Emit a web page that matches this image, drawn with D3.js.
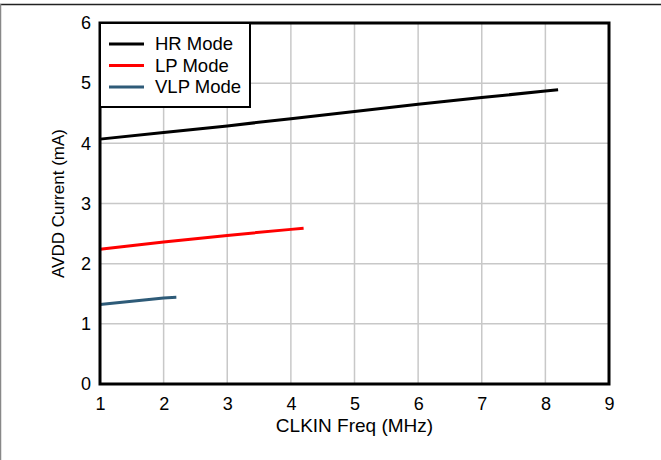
<!DOCTYPE html>
<html>
<head>
<meta charset="utf-8">
<script src="https://cdn.jsdelivr.net/npm/d3@7"></script>
<style>
  body { margin: 0; background: #fff; }
  svg text { font-family: "Liberation Sans", Arial, sans-serif; fill: #000; }
</style>
</head>
<body>
<svg width="661" height="460"></svg>
<script>
// values
var seriesNames = ["HR Mode", "LP Mode", "VLP Mode"];
var seriesColors = ["#000000", "#ff0000", "#2e5b78"];
var hrFreq = [1, 2, 3, 4, 5, 6, 7, 8, 8.2];
var hrCurrent = [4.07, 4.18, 4.29, 4.41, 4.53, 4.65, 4.76, 4.87, 4.89];
var lpFreq = [1, 2, 3, 4, 4.2];
var lpCurrent = [2.24, 2.36, 2.47, 2.57, 2.59];
var vlpFreq = [1, 2, 2.2];
var vlpCurrent = [1.32, 1.43, 1.44];
var xTicks = [1, 2, 3, 4, 5, 6, 7, 8, 9];
var yTicks = [0, 1, 2, 3, 4, 5, 6];

var series = [
  {name: seriesNames[0], color: seriesColors[0], pts: hrFreq.map((f, i) => [f, hrCurrent[i]])},
  {name: seriesNames[1], color: seriesColors[1], pts: lpFreq.map((f, i) => [f, lpCurrent[i]])},
  {name: seriesNames[2], color: seriesColors[2], pts: vlpFreq.map((f, i) => [f, vlpCurrent[i]])}
];

var svg = d3.select("svg");

// outer frame bits (top + left edge)
svg.append("line").attr("x1", 0).attr("x2", 661).attr("y1", 4.5).attr("y2", 4.5)
  .attr("stroke", "#222").attr("stroke-width", 1.5);
svg.append("line").attr("x1", 0.5).attr("x2", 0.5).attr("y1", 4).attr("y2", 460)
  .attr("stroke", "#888").attr("stroke-width", 1.5);

var x = d3.scaleLinear().domain([1, 9]).range([100, 609]);
var y = d3.scaleLinear().domain([0, 6]).range([384, 23]);

// grid
var grid = svg.append("g");
grid.selectAll(".gx").data(xTicks.slice(1, -1)).enter().append("line")
  .attr("x1", d => x(d)).attr("x2", d => x(d))
  .attr("y1", y(6)).attr("y2", y(0))
  .attr("stroke", "#c8c8c8").attr("stroke-width", 1.5);
grid.selectAll(".gy").data(yTicks.slice(1, -1)).enter().append("line")
  .attr("x1", x(1)).attr("x2", x(9))
  .attr("y1", d => y(d)).attr("y2", d => y(d))
  .attr("stroke", "#c8c8c8").attr("stroke-width", 1.5);

// axes (labels only, frame drawn separately)
var xAxis = d3.axisBottom(x).tickValues(xTicks).tickSize(0).tickPadding(13).tickFormat(d3.format("d"));
var xG = svg.append("g").attr("transform", "translate(0," + y(0) + ")").call(xAxis);
xG.select(".domain").remove();
xG.selectAll("text").style("font-size", "18px");

var yAxis = d3.axisLeft(y).tickValues(yTicks).tickSize(0).tickPadding(9).tickFormat(d3.format("d"));
var yG = svg.append("g").attr("transform", "translate(" + x(1) + ",0)").call(yAxis);
yG.select(".domain").remove();
yG.selectAll("text").style("font-size", "18px");

// lines
var line = d3.line().x(d => x(d[0])).y(d => y(d[1]));
svg.selectAll(".series").data(series).enter().append("path")
  .attr("d", d => line(d.pts))
  .attr("fill", "none")
  .attr("stroke", d => d.color)
  .attr("stroke-width", 3);

// plot frame
svg.append("rect")
  .attr("x", x(1)).attr("y", y(6))
  .attr("width", x(9) - x(1)).attr("height", y(0) - y(6))
  .attr("fill", "none").attr("stroke", "#000").attr("stroke-width", 3);

// axis titles
svg.append("text").attr("x", (x(1) + x(9)) / 2).attr("y", 432)
  .attr("text-anchor", "middle").style("font-size", "19px").text("CLKIN Freq (MHz)");
svg.append("text").attr("transform", "translate(64," + (y(0) + y(6)) / 2 + ") rotate(-90)")
  .attr("text-anchor", "middle").style("font-size", "17px").text("AVDD Current (mA)");

// legend
var lg = svg.append("g");
lg.append("rect").attr("x", x(1)).attr("y", y(6)).attr("width", 150).attr("height", 84)
  .attr("fill", "#fff").attr("stroke", "#000").attr("stroke-width", 2);
var rows = lg.selectAll(".row").data(series).enter().append("g")
  .attr("transform", (d, i) => "translate(0," + (44 + i * 21.5) + ")");
rows.append("line").attr("x1", 109).attr("x2", 144).attr("y1", 0).attr("y2", 0)
  .attr("stroke", d => d.color).attr("stroke-width", 3);
rows.append("text").attr("x", 155).attr("y", 0).attr("dy", "0.35em")
  .style("font-size", "18.5px").text(d => d.name);
</script>
</body>
</html>
